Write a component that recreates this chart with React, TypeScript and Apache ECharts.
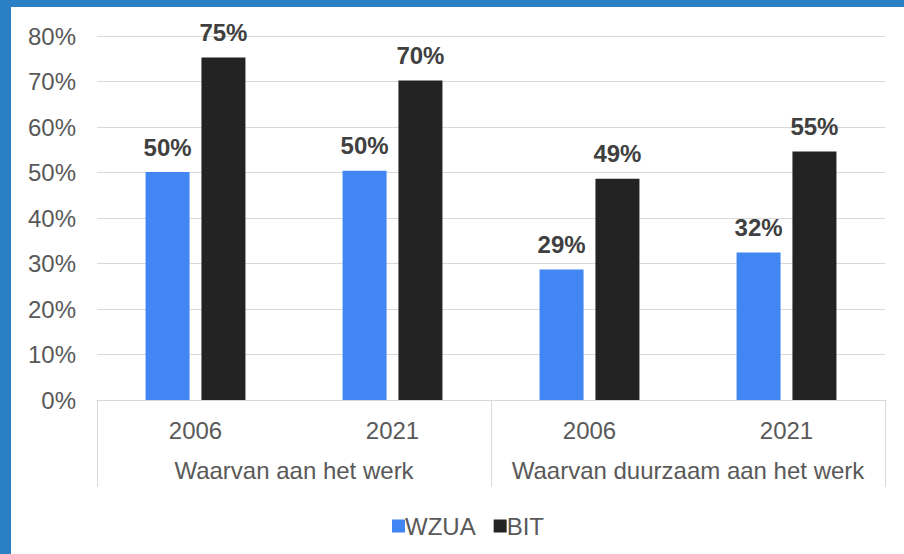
import React, { useEffect, useRef } from "react";
import * as echarts from "echarts";

const years = ["2006", "2021", "2006", "2021"];
const groups = ["Waarvan aan het werk", "Waarvan duurzaam aan het werk"];
const seriesNames = ["WZUA", "BIT"];
const wzua = [50.1, 50.4, 28.7, 32.4];
const bit = [75.3, 70.2, 48.6, 54.6];

const FONT = "'Liberation Sans', Arial, sans-serif";
const BLUE = "#4286f4";
const BLACK = "#232323";
const GRID = "#d9d9d9";
const TEXT = "#595959";

export default function App() {
  const ref = useRef<HTMLDivElement>(null);
  useEffect(() => {
    if (!ref.current) return;
    const chart = echarts.init(ref.current, null, { renderer: "svg" });
    const label = {
      show: true,
      position: "top",
      distance: 13,
      fontFamily: FONT,
      fontSize: 24,
      fontWeight: "bold",
      color: "#404040",
      formatter: (p: any) => `${Math.round(p.value)}%`,
    };
    chart.setOption({
      animation: false,
      backgroundColor: "#ffffff",
      textStyle: { fontFamily: FONT },
      graphic: [
        { type: "rect", left: 0, top: 0, shape: { width: 11, height: 554 }, style: { fill: "#2a7fc5" } },
        { type: "rect", left: 0, top: 0, shape: { width: 904, height: 7 }, style: { fill: "#2a7fc5" } },
      ],
      grid: { left: 97, right: 19, top: 36, bottom: 154, containLabel: false },
      legend: {
        left: 387,
        top: 509,
        itemWidth: 13,
        itemHeight: 13,
        itemGap: 18,
        icon: "rect",
        textStyle: { fontFamily: FONT, fontSize: 24, color: TEXT, padding: [0, 0, 0, -5] },
        data: seriesNames,
      },
      xAxis: [
        {
          type: "category",
          data: years,
          position: "bottom",
          axisLine: { show: true, lineStyle: { color: GRID, width: 1 } },
          axisTick: { show: false },
          axisLabel: { fontFamily: FONT, fontSize: 24, color: TEXT, margin: 18, interval: 0 },
        },
        {
          type: "category",
          data: groups,
          position: "bottom",
          axisLine: { show: false },
          axisTick: { show: true, interval: 0, length: 87, lineStyle: { color: GRID, width: 1 } },
          axisLabel: { fontFamily: FONT, fontSize: 24, color: TEXT, margin: 58, interval: 0 },
        },
      ],
      yAxis: {
        type: "value",
        min: 0,
        max: 80,
        interval: 10,
        axisLine: { show: false },
        axisTick: { show: false },
        splitLine: { lineStyle: { color: GRID, width: 1 } },
        axisLabel: { fontFamily: FONT, fontSize: 24, color: TEXT, margin: 21, formatter: "{value}%" },
      },
      series: [
        {
          name: seriesNames[0],
          type: "bar",
          xAxisIndex: 0,
          data: wzua,
          barWidth: 44,
          barGap: "27%",
          itemStyle: { color: BLUE },
          label,
        },
        {
          name: seriesNames[1],
          type: "bar",
          xAxisIndex: 0,
          data: bit,
          barWidth: 44,
          barGap: "27%",
          itemStyle: { color: BLACK },
          label,
        },
      ],
    });
    return () => chart.dispose();
  }, []);
  return (
    <div
      ref={ref}
      style={{ position: "fixed", left: 0, top: 0, width: 904, height: 554 }}
    />
  );
}
